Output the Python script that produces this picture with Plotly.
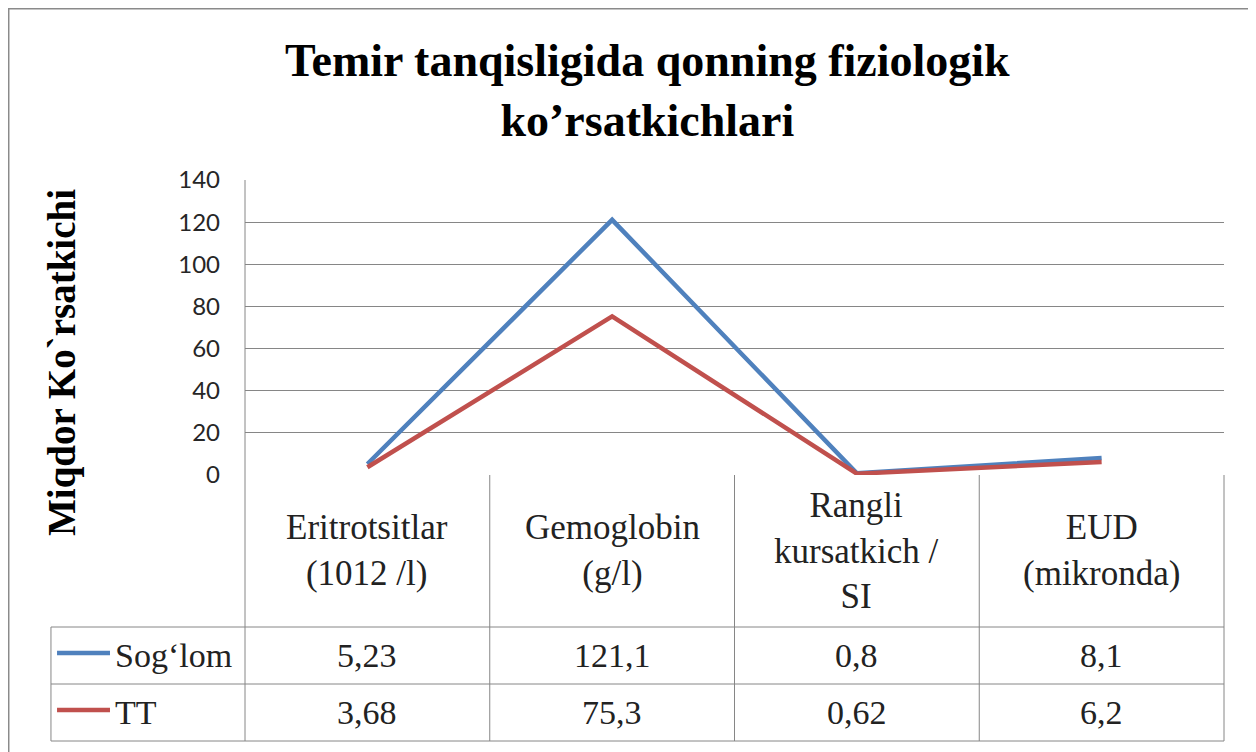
"""
Line chart with data table: blood indices in iron deficiency.
"""
import plotly.graph_objects as go

CATEGORIES = ["Eritrotsitlar<br>(1012 /l)", "Gemoglobin<br>(g/l)",
              "Rangli<br>kursatkich /<br>SI", "EUD<br>(mikronda)"]
SERIES_NAMES = ["Sog‘lom", "TT"]
HEALTHY = [5.23, 121.1, 0.8, 8.1]
IRON_DEF = [3.68, 75.3, 0.62, 6.2]
Y_TICKS = [0, 20, 40, 60, 80, 100, 120, 140]

TITLE = "Temir tanqisligida qonning fiziologik<br>ko’rsatkichlari"
Y_TITLE = "Miqdor Ko`rsatkichi"

SERIF = "Liberation Serif, Times New Roman, serif"
SANS = "Lato, Calibri, sans-serif"
GRID = "#868686"
COLORS = ["#4F81BD", "#C0504D"]

# table geometry in paper units (plot area = 979 x 295 px)
TABLE_LEFT = -0.1982
ROW_HEADER_MID = -0.2576
ROW_LINES = [-0.5153, -0.7085, -0.9017]
ROW_MIDS = [-0.6119, -0.8051]


def fmt(v):
    """Excel style decimal comma."""
    return f"{v:g}".replace(".", ",")


def hline(x0, x1, y):
    return dict(type="line", xref="paper", yref="paper", x0=x0, x1=x1,
                y0=y, y1=y, line=dict(color=GRID, width=1))


def vline(x, y0, y1):
    return dict(type="line", xref="paper", yref="paper", x0=x, x1=x,
                y0=y0, y1=y1, line=dict(color=GRID, width=1))


fig = go.Figure()
for name, vals, color in zip(SERIES_NAMES, [HEALTHY, IRON_DEF], COLORS):
    fig.add_trace(go.Scatter(
        x=CATEGORIES, y=vals, name=name, mode="lines",
        line={"color": color, "width": 4.5}, hoverinfo="skip",
        showlegend=False,
    ))

shapes = []
# outer chart frame
shapes.append(dict(type="rect", xref="paper", yref="paper",
                   x0=-0.2416, x1=1.0286, y0=-0.99, y1=1.5814,
                   line=dict(color="#8a8a8a", width=2)))
# left axis line running through the table
shapes.append(vline(0, 1, ROW_LINES[-1]))
for i in range(1, len(CATEGORIES) + 1):
    shapes.append(vline(i / len(CATEGORIES), 0, ROW_LINES[-1]))
for y in ROW_LINES:
    shapes.append(hline(TABLE_LEFT, 1, y))
shapes.append(vline(TABLE_LEFT, ROW_LINES[0], ROW_LINES[-1]))

annotations = []
for cat in CATEGORIES:
    annotations.append(dict(
        x=cat, y=ROW_HEADER_MID, xref="x", yref="paper", text=cat,
        showarrow=False, xanchor="center", yanchor="middle",
        font=dict(family=SERIF, size=35, color="#222222")))
for vals, ymid in zip([HEALTHY, IRON_DEF], ROW_MIDS):
    for cat, v in zip(CATEGORIES, vals):
        annotations.append(dict(
            x=cat, y=ymid, xref="x", yref="paper", text=fmt(v),
            showarrow=False, xanchor="center", yanchor="middle",
            font=dict(family=SERIF, size=34, color="#222222")))

# legend keys inside the table
for name, color, ymid in zip(SERIES_NAMES, COLORS, ROW_MIDS):
    shapes.append(dict(type="line", xref="paper", yref="paper",
                       x0=-0.1920, x1=-0.1379, y0=ymid + 0.0085,
                       y1=ymid + 0.0085, line=dict(color=color, width=4.5)))
    annotations.append(dict(
        x=-0.1348, y=ymid, xref="paper", yref="paper", text=name,
        showarrow=False, xanchor="left", yanchor="middle",
        font=dict(family=SERIF, size=34, color="#222222")))

annotations.append(dict(
    x=-0.1869, y=0.3797, xref="paper", yref="paper", text=f"<b>{Y_TITLE}</b>",
    showarrow=False, textangle=-90, xanchor="center", yanchor="middle",
    font=dict(family=SERIF, size=39, color="black")))

# chart title
annotations.append(dict(
    x=0.4116, y=1.305, xref="paper", yref="paper", text=f"<b>{TITLE}</b>",
    showarrow=False, xanchor="center", yanchor="middle",
    font=dict(family=SERIF, size=46, color="black")))

fig.update_layout(
    width=1256, height=752,
    margin=dict(l=237, r=40, t=172, b=285),
    paper_bgcolor="white", plot_bgcolor="white",
    xaxis=dict(type="category", range=[-0.5, len(CATEGORIES) - 0.5],
               showticklabels=False, showgrid=False, zeroline=False,
               showline=False, fixedrange=True),
    yaxis=dict(range=[0, 140], tickvals=Y_TICKS, showgrid=True,
               gridcolor=GRID, gridwidth=1, zeroline=False, showline=False,
               ticks="", ticklabelstandoff=24,
               tickfont=dict(family=SANS, size=24, color="#262626"),
               fixedrange=True),
    shapes=shapes,
    annotations=annotations,
)

fig.write_html("out.html")
